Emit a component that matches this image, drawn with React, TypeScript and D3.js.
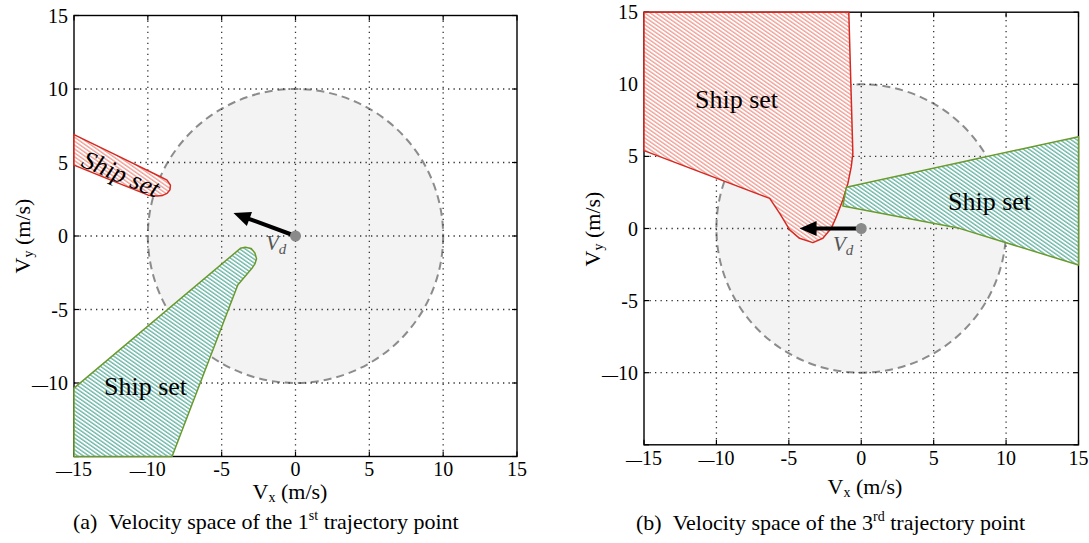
import React from "react";
import * as d3 from "d3";

const TICKS = [-15, -10, -5, 0, 5, 10, 15];
const TICK_LABELS = ["\u221215", "\u221210", "-5", "0", "5", "10", "15"];
const Y_TICKS = [-10, -5, 0, 5, 10, 15];
const Y_TICK_LABELS = ["\u221210", "-5", "0", "5", "10", "15"];
const GRID = [-10, -5, 0, 5, 10];
const CIRCLE_RADIUS = 10;

const leftShipRed: [number, number][] = [
  [-15, 6.9], [-12, 5.43], [-9.15, 4.03], [-8.7, 3.8], [-8.47, 3.46], [-8.5, 3.15],
  [-8.7, 2.9], [-9.0, 2.76], [-9.36, 2.72], [-9.97, 2.78], [-12, 3.6], [-15, 4.82],
];
const leftShipGreen: [number, number][] = [
  [-15, -15], [-15, -10.35], [-3.73, -0.84], [-3.4, -0.76], [-3.0, -0.85], [-2.75, -1.15],
  [-2.64, -1.55], [-2.75, -1.9], [-2.95, -2.2], [-3.91, -3.33], [-8.36, -15],
];
const rightShipRed: [number, number][] = [
  [-15, 15], [-0.86, 15], [-0.58, 5.21], [-0.69, 4.29], [-0.92, 3.13], [-1.27, 1.98],
  [-1.72, 0.82], [-2.07, 0.01], [-2.65, -0.68], [-3.34, -0.98], [-4.26, -0.68],
  [-4.94, -0.1], [-5.63, 1.05], [-6.32, 2.09], [-15, 5.4],
];
const rightShipGreen: [number, number][] = [
  [-1.03, 2.86], [15, 6.37], [15, -2.53], [6.78, 0.01], [-1.27, 1.56],
];
const leftArrowTip: [number, number] = [-4.2, 1.56];
const rightArrowTip: [number, number] = [-4.26, 0];

const SERIF = "'Liberation Serif', 'Times New Roman', serif";

type Label = { text: string; x: number; y: number; rotate?: number; italic?: boolean };

type PanelProps = {
  xr: [number, number];
  yr: [number, number];
  red: [number, number][];
  green: [number, number][];
  arrowTip: [number, number];
  shipLabels: Label[];
  vd: [number, number];
  xTickBaseline: number;
  xLabel: [number, number];
  yLabel: [number, number];
  caption: { x: number; y: number; main: string; sup: string };
};

function TickText({ label }: { label: string }) {
  if (label.startsWith("\u2212")) {
    return (
      <>
        <tspan fontSize={16}>{"\u2014"}</tspan>
        <tspan>{label.slice(1)}</tspan>
      </>
    );
  }
  return <>{label}</>;
}

function Panel(p: PanelProps) {
  const x = d3.scaleLinear().domain([-15, 15]).range(p.xr);
  const y = d3.scaleLinear().domain([-15, 15]).range(p.yr);
  const line = d3.line<[number, number]>().x((d) => x(d[0])).y((d) => y(d[1]));
  const [x0, x1] = p.xr;
  const [yb, yt] = p.yr;
  const cx = x(0), cy = y(0);
  const rx = x(CIRCLE_RADIUS) - x(0);
  const ry = y(0) - y(CIRCLE_RADIUS);

  const tx = x(p.arrowTip[0]), ty = y(p.arrowTip[1]);
  const dx = tx - cx, dy = ty - cy;
  const len = Math.hypot(dx, dy);
  const ux = dx / len, uy = dy / len;
  const HL = 17, HW = 7.5;
  const bx = tx - ux * HL, by = ty - uy * HL;
  const head = `M${tx},${ty} L${bx - uy * HW},${by + ux * HW} L${bx + uy * HW},${by - ux * HW} Z`;
  const ts = { fontFamily: SERIF };

  return (
    <g>
      <ellipse cx={cx} cy={cy} rx={rx} ry={ry} fill="#f3f3f3" stroke="#8c8c8c" strokeWidth={2} strokeDasharray="8,5" />
      {GRID.map((g) => (
        <g key={g}>
          <line x1={x(g)} x2={x(g)} y1={yb} y2={yt} stroke="#333" strokeWidth={1.3} strokeDasharray="1.3,4.2" />
          <line x1={x0} x2={x1} y1={y(g)} y2={y(g)} stroke="#333" strokeWidth={1.3} strokeDasharray="1.3,4.2" />
        </g>
      ))}
      <rect x={x0} y={yt} width={x1 - x0} height={yb - yt} fill="none" stroke="#000" strokeWidth={1.4} />
      {TICKS.map((t) => (
        <g key={t}>
          <line x1={x(t)} x2={x(t)} y1={yb} y2={yb - 5} stroke="#000" strokeWidth={1.2} />
          <line x1={x(t)} x2={x(t)} y1={yt} y2={yt + 5} stroke="#000" strokeWidth={1.2} />
          <line x1={x0} x2={x0 + 5} y1={y(t)} y2={y(t)} stroke="#000" strokeWidth={1.2} />
          <line x1={x1} x2={x1 - 5} y1={y(t)} y2={y(t)} stroke="#000" strokeWidth={1.2} />
        </g>
      ))}
      <path d={line(p.red) + "Z"} fill="url(#hatchRed)" stroke="#d42a22" strokeWidth={1.5} strokeLinejoin="round" />
      <path d={line(p.green) + "Z"} fill="url(#hatchGreen)" stroke="#6a9a2c" strokeWidth={1.5} strokeLinejoin="round" />
      <line x1={cx} y1={cy} x2={bx + ux * 2} y2={by + uy * 2} stroke="#000" strokeWidth={4} />
      <path d={head} fill="#000" />
      <circle cx={cx} cy={cy} r={5.5} fill="#8a8a8a" />
      {p.shipLabels.map((l, i) => (
        <text
          key={i}
          x={l.x}
          y={l.y}
          style={ts}
          fontSize={26}
          fontStyle={l.italic ? "italic" : "normal"}
          fill="#000"
          transform={l.rotate ? `rotate(${l.rotate},${l.x},${l.y})` : undefined}
        >
          {l.text}
        </text>
      ))}
      <text x={p.vd[0]} y={p.vd[1]} style={ts} fontSize={21} fontStyle="italic" fill="#555">
        V<tspan fontSize={15} dy={4}>d</tspan>
      </text>
      {TICKS.map((t, i) => (
        <text key={"xt" + t} x={x(t)} y={p.xTickBaseline} textAnchor="middle" style={ts} fontSize={20} fill="#000">
          <TickText label={TICK_LABELS[i]} />
        </text>
      ))}
      {Y_TICKS.map((t, i) => (
        <text key={"yt" + t} x={x0 - 6} y={y(t) + 7} textAnchor="end" style={ts} fontSize={20} fill="#000">
          <TickText label={Y_TICK_LABELS[i]} />
        </text>
      ))}
      <text x={p.xLabel[0]} y={p.xLabel[1]} textAnchor="middle" style={ts} fontSize={22} fill="#000">
        V<tspan fontSize={14} dy={3}>x</tspan>
        <tspan dy={-3}>{"\u00a0(m/s)"}</tspan>
      </text>
      <text
        x={p.yLabel[0]}
        y={p.yLabel[1]}
        textAnchor="middle"
        style={ts}
        fontSize={22}
        fill="#000"
        transform={`rotate(-90,${p.yLabel[0]},${p.yLabel[1]})`}
      >
        V<tspan fontSize={14} dy={3}>y</tspan>
        <tspan dy={-3}>{"\u00a0(m/s)"}</tspan>
      </text>
      <text x={p.caption.x} y={p.caption.y} style={ts} fontSize={22} fill="#000">
        {p.caption.main}
        <tspan fontSize={14} dy={-9}>{p.caption.sup}</tspan>
        <tspan dy={9}>{"\u00a0trajectory point"}</tspan>
      </text>
    </g>
  );
}

export default function App() {
  return (
    <svg
      width={1089}
      height={543}
      style={{ position: "absolute", left: 0, top: 0, background: "#fff" }}
    >
      <defs>
        <pattern id="hatchRed" patternUnits="userSpaceOnUse" width={3.2} height={3.2} patternTransform="rotate(-55)">
          <rect width={3.2} height={3.2} fill="#fff" />
          <line x1={0.7} y1={0} x2={0.7} y2={3.2} stroke="#f29a90" strokeWidth={1.3} />
        </pattern>
        <pattern id="hatchGreen" patternUnits="userSpaceOnUse" width={3.2} height={3.2} patternTransform="rotate(-55)">
          <rect width={3.2} height={3.2} fill="#fff" />
          <line x1={0.7} y1={0} x2={0.7} y2={3.2} stroke="#62b3a2" strokeWidth={1.3} />
        </pattern>
      </defs>
      <rect width={1089} height={543} fill="#fff" />
      <Panel
        xr={[74, 517]}
        yr={[456.5, 15.5]}
        red={leftShipRed}
        green={leftShipGreen}
        arrowTip={leftArrowTip}
        shipLabels={[
          { text: "Ship set", x: 80, y: 166, rotate: 23, italic: true },
          { text: "Ship set", x: 104, y: 395 },
        ]}
        vd={[266, 250]}
        xTickBaseline={476}
        xLabel={[290, 499]}
        yLabel={[30, 236]}
        caption={{ x: 73, y: 529, main: "(a)\u00a0\u00a0Velocity space of the 1", sup: "st" }}
      />
      <Panel
        xr={[644, 1078.5]}
        yr={[444.8, 12.2]}
        red={rightShipRed}
        green={rightShipGreen}
        arrowTip={rightArrowTip}
        shipLabels={[
          { text: "Ship set", x: 695, y: 108 },
          { text: "Ship set", x: 948, y: 210 },
        ]}
        vd={[833, 251]}
        xTickBaseline={465}
        xLabel={[865, 494]}
        yLabel={[600, 229]}
        caption={{ x: 636, y: 530, main: "(b)\u00a0\u00a0Velocity space of the 3", sup: "rd" }}
      />
    </svg>
  );
}
